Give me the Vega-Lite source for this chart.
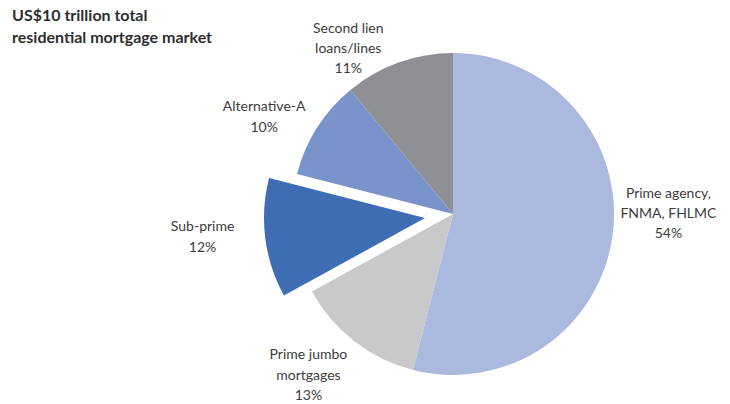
{
  "$schema": "https://vega.github.io/schema/vega-lite/v6.json",
  "width": 546,
  "height": 320,
  "autosize": {"type": "none"},
  "padding": {"left": 180, "top": 54, "right": 4, "bottom": 30},
  "background": "white",
  "title": {
    "text": ["US$10 trillion total", "residential mortgage market"],
    "orient": "none",
    "anchor": "start",
    "frame": "group",
    "baseline": "top",
    "offset": 0,
    "dx": -168,
    "dy": -46,
    "font": "Lato",
    "fontSize": 16,
    "fontWeight": "bold",
    "color": "#2e2e2e",
    "lineHeight": 22
  },
  "config": {"view": {"stroke": null}},
  "data": {
    "values": [
      {"idx": 1, "segment": "Prime agency", "share": 54, "label": "Prime agency,\nFNMA, FHLMC\n54%"},
      {"idx": 2, "segment": "Prime jumbo", "share": 13, "label": "Prime jumbo\nmortgages\n13%"},
      {"idx": 3, "segment": "Sub-prime", "share": 12, "label": "Sub-prime\n12%"},
      {"idx": 4, "segment": "Alternative-A", "share": 10, "label": "Alternative-A\n10%"},
      {"idx": 5, "segment": "Second lien", "share": 11, "label": "Second lien\nloans/lines\n11%"}
    ]
  },
  "encoding": {
    "theta": {"field": "share", "type": "quantitative", "stack": true},
    "order": {"field": "idx", "type": "ordinal"}
  },
  "layer": [
    {
      "mark": {"type": "arc", "radius": 161},
      "encoding": {
        "color": {"field": "segment", "type": "nominal", "legend": null,
          "scale": {"domain": ["Prime agency", "Prime jumbo", "Sub-prime", "Alternative-A", "Second lien"],
                    "range": ["#aab9dd", "#c8c9cb", "#3f6db3", "#7b93cb", "#8e9096"]}},
        "opacity": {"condition": {"test": "datum.segment === 'Sub-prime'", "value": 0}, "value": 1}
      }
    },
    {
      "mark": {"type": "arc", "radius": 161, "xOffset": -28, "yOffset": 4},
      "encoding": {
        "color": {"field": "segment", "type": "nominal", "legend": null},
        "opacity": {"condition": {"test": "datum.segment === 'Sub-prime'", "value": 1}, "value": 0}
      }
    },
    {
      "mark": {"type": "text", "radius": 200, "dx": 17, "dy": -45, "font": "Lato", "fontSize": 14, "color": "#3c3c3c", "lineHeight": 20, "lineBreak": "\n", "align": "center", "baseline": "middle"},
      "encoding": {"detail": {"field": "segment"}, "text": {"condition": {"test": "datum.segment === 'Prime agency'", "field": "label", "type": "nominal"}, "value": ""}}
    },
    {
      "mark": {"type": "text", "radius": 200, "dx": -22, "dy": -17, "font": "Lato", "fontSize": 14, "color": "#3c3c3c", "lineHeight": 20.5, "lineBreak": "\n", "align": "center", "baseline": "middle"},
      "encoding": {"detail": {"field": "segment"}, "text": {"condition": {"test": "datum.segment === 'Prime jumbo'", "field": "label", "type": "nominal"}, "value": ""}}
    },
    {
      "mark": {"type": "text", "radius": 200, "dx": -52, "dy": -12, "font": "Lato", "fontSize": 14, "color": "#3c3c3c", "lineHeight": 21, "lineBreak": "\n", "align": "center", "baseline": "middle"},
      "encoding": {"detail": {"field": "segment"}, "text": {"condition": {"test": "datum.segment === 'Sub-prime'", "field": "label", "type": "nominal"}, "value": ""}}
    },
    {
      "mark": {"type": "text", "radius": 200, "dx": -20, "dy": 0, "font": "Lato", "fontSize": 14, "color": "#3c3c3c", "lineHeight": 21, "lineBreak": "\n", "align": "center", "baseline": "middle"},
      "encoding": {"detail": {"field": "segment"}, "text": {"condition": {"test": "datum.segment === 'Alternative-A'", "field": "label", "type": "nominal"}, "value": ""}}
    },
    {
      "mark": {"type": "text", "radius": 200, "dx": -37, "dy": 3, "font": "Lato", "fontSize": 14, "color": "#3c3c3c", "lineHeight": 20, "lineBreak": "\n", "align": "center", "baseline": "middle"},
      "encoding": {"detail": {"field": "segment"}, "text": {"condition": {"test": "datum.segment === 'Second lien'", "field": "label", "type": "nominal"}, "value": ""}}
    }
  ]
}
